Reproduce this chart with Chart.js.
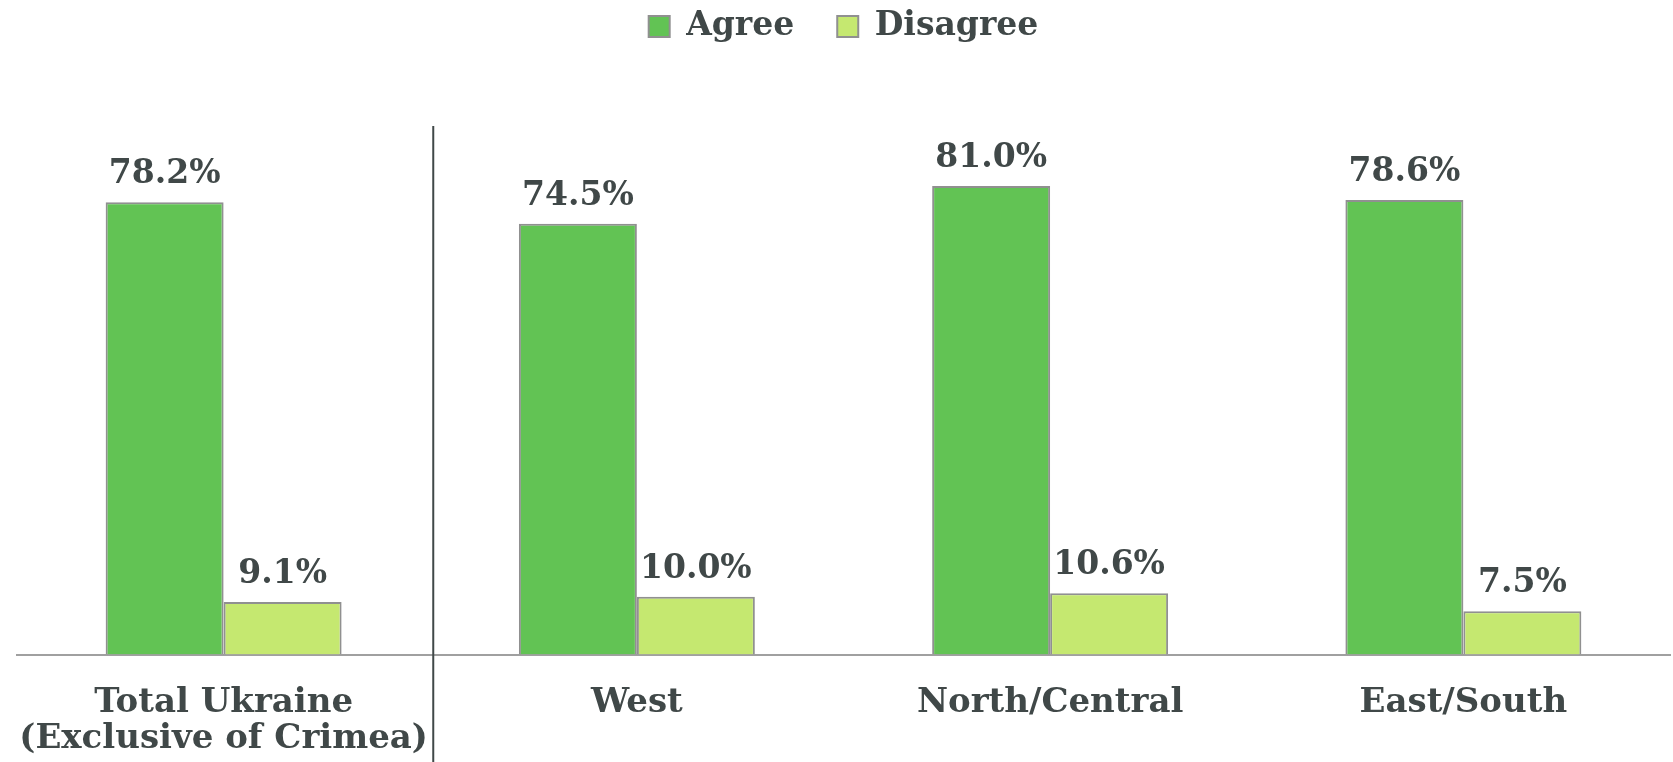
<!DOCTYPE html>
<html lang="en">
<head>
    <meta charset="UTF-8">
    <title>Agree / Disagree by region</title>
    <script src="https://cdn.jsdelivr.net/npm/chart.js"></script>
    <style>
        body {
            margin: 0;
            background-color: #fff;
        }

        #chartContainer {
            width: 1673px;
            height: 762px;
        }
    </style>
</head>
<body>

    <div id="chartContainer">
        <canvas id="myChart"></canvas>
    </div>

    <script>
        // data
        const regions = [['Total Ukraine', '(Exclusive of Crimea)'], 'West', 'North/Central', 'East/South'];
        const agree = [78.2, 74.5, 81.0, 78.6];
        const disagree = [9.1, 10.0, 10.6, 7.5];

        const textColor = '#404848';
        const fontFamily = "'DejaVu Serif', serif";
        const fontSize = 33;

        // value labels above each bar
        const barLabels = {
            id: 'barLabels',
            afterDatasetsDraw(chart) {
                const ctx = chart.ctx;
                ctx.save();
                ctx.font = 'bold ' + fontSize + 'px ' + fontFamily;
                ctx.fillStyle = textColor;
                ctx.textAlign = 'center';
                ctx.textBaseline = 'alphabetic';
                chart.data.datasets.forEach((ds, i) => {
                    chart.getDatasetMeta(i).data.forEach((bar, j) => {
                        ctx.fillText(ds.data[j].toFixed(1) + '%', bar.x, bar.y - 19);
                    });
                });
                ctx.restore();
            }
        };

        // vertical divider between the total and the regions
        const divider = {
            id: 'divider',
            afterDraw(chart) {
                const x = chart.scales.x;
                const pos = (x.getPixelForValue(0) + x.getPixelForValue(1)) / 2 + 3;
                const ctx = chart.ctx;
                ctx.save();
                ctx.strokeStyle = '#404848';
                ctx.lineWidth = 2;
                ctx.beginPath();
                ctx.moveTo(pos, 126);
                ctx.lineTo(pos, chart.height);
                ctx.stroke();
                ctx.restore();
            }
        };

        const ctx = document.getElementById('myChart').getContext('2d');
        new Chart(ctx, {
            type: 'bar',
            data: {
                labels: regions,
                datasets: [{
                    label: 'Agree',
                    data: agree,
                    backgroundColor: '#62c354',
                    borderColor: '#909090',
                    borderWidth: 2
                }, {
                    label: 'Disagree',
                    data: disagree,
                    backgroundColor: '#c5e870',
                    borderColor: '#909090',
                    borderWidth: 2
                }]
            },
            options: {
                responsive: true,
                maintainAspectRatio: false,
                animation: false,
                layout: {
                    padding: { left: 17, right: 3, top: 0, bottom: -26 }
                },
                datasets: {
                    bar: {
                        categoryPercentage: 0.571,
                        barPercentage: 1.0
                    }
                },
                scales: {
                    x: {
                        grid: { display: false, drawTicks: false },
                        border: { display: true, color: '#a0a0a0', width: 2 },
                        afterFit(scale) {
                            // keep the plot area edge where the axis line starts
                            scale.paddingLeft = 0;
                            scale.paddingRight = 0;
                        },
                        ticks: {
                            color: textColor,
                            padding: 31,
                            maxRotation: 0,
                            minRotation: 0,
                            autoSkip: false,
                            font: { family: fontFamily, size: 34, weight: 'bold', lineHeight: 1.05 }
                        }
                    },
                    y: {
                        display: false,
                        min: 0,
                        max: 104
                    }
                },
                plugins: {
                    legend: {
                        position: 'top',
                        labels: {
                            color: textColor,
                            boxWidth: 21,
                            boxHeight: 21,
                            padding: 10,
                            font: { family: fontFamily, size: fontSize, weight: 'bold' },
                            generateLabels(chart) {
                                const items = Chart.defaults.plugins.legend.labels.generateLabels(chart);
                                items[0].text = items[0].text + '\u2003';
                                return items;
                            }
                        }
                    },
                    tooltip: { enabled: false }
                }
            },
            plugins: [barLabels, divider]
        });
    </script>
</body>
</html>
